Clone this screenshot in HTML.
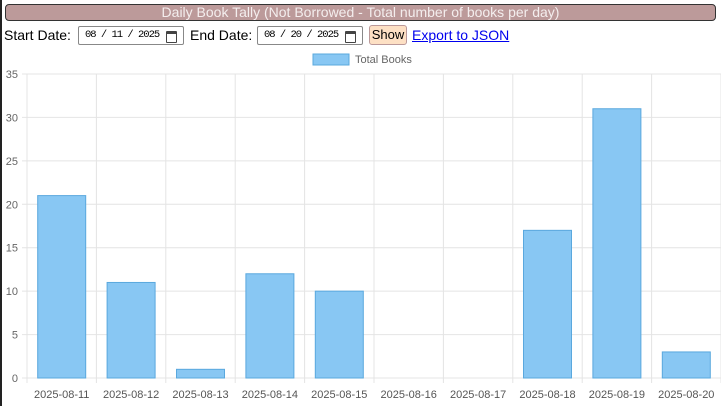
<!DOCTYPE html>
<html><head><meta charset="utf-8"><style>
body{margin:0;width:721px;height:406px;overflow:hidden;background:#fff;font-family:"Liberation Sans",sans-serif;position:relative}
#lb{position:absolute;left:0;top:0;width:2px;height:406px;background:#222}
#title{position:absolute;left:5px;top:4px;width:709px;height:15px;border:1px solid #333;border-radius:4px;background:#bc9a9a;color:#f4eeee;font-size:14px;line-height:15px;text-align:center}
.abs{position:absolute;font-size:14px;white-space:nowrap}
.inp{position:absolute;top:26px;width:104px;height:17px;border:1px solid #888;border-radius:2px;font-family:"Liberation Mono",monospace;font-size:10.5px;line-height:17px;box-sizing:content-box}
.inp span{position:absolute;left:6px;top:0;letter-spacing:-1px;white-space:nowrap}
.cal{position:absolute;right:6px;top:4px;width:9px;height:8px;border:1px solid #444;border-top-width:3px;border-radius:1px}
.btn{position:absolute;left:369px;top:25px;width:36px;height:18px;border:1px solid #b99;border-radius:3px;background:#fde0c4;font-size:13px;line-height:18px;text-align:center}
a{color:#00e;text-decoration:underline}
</style></head><body>
<div id="lb"></div>
<div id="title">Daily Book Tally (Not Borrowed - Total number of books per day)</div>
<div class="abs" style="left:4px;top:27px">Start Date:</div>
<div class="inp" style="left:78px"><span>08 / 11 / 2025</span><i class="cal"></i></div>
<div class="abs" style="left:190px;top:27px">End Date:</div>
<div class="inp" style="left:257px"><span>08 / 20 / 2025</span><i class="cal"></i></div>
<div class="btn">Show</div>
<a class="abs" style="left:412px;top:27px">Export to JSON</a>
<svg id="chart" width="721" height="406" style="position:absolute;left:0;top:0"></svg>
<script>
const categories=["2025-08-11","2025-08-12","2025-08-13","2025-08-14","2025-08-15","2025-08-16","2025-08-17","2025-08-18","2025-08-19","2025-08-20"];
const totalBooks=[21,11,1,12,10,0,0,17,31,3];
const yTicks=[0,5,10,15,20,25,30,35];
const NS="http://www.w3.org/2000/svg";
const svg=document.getElementById('chart');
const x0=27,x1=721,yTop=74,yBot=378,yMax=35;
const bw=(x1-x0)/categories.length;
const ys=v=>yBot-(v/yMax)*(yBot-yTop);
const xs=i=>x0+bw*i;
function mk(t,a){const e=document.createElementNS(NS,t);for(const k in a)e.setAttribute(k,a[k]);svg.appendChild(e);return e;}
yTicks.forEach(v=>{
 const l=mk('line',{x1:x0-5,x2:x1,y1:ys(v),y2:ys(v),stroke:'#e4e4e4'});
 
 
 const t=mk('text',{x:18,y:ys(v)+4,'text-anchor':'end','font-size':11,fill:'#666'});t.textContent=v;
 
 
});
for(let i=0;i<=categories.length;i++){
 const l=mk('line',{x1:xs(i),x2:xs(i),y1:yTop,y2:yBot+5,stroke:'#e4e4e4'});
 
 
}
categories.forEach((c,i)=>{
 const cx=xs(i)+bw/2,v=totalBooks[i];
 if(v>0){const r=mk('rect',{x:cx-24,y:ys(v),width:48,height:yBot-ys(v),fill:'#88c7f3',stroke:'#5aa8de','stroke-width':1});
 
 }
 const t=mk('text',{x:cx,y:398,'text-anchor':'middle','font-size':11,fill:'#555'});t.textContent=c;
 
 
});
const lg=mk('rect',{x:313,y:54,width:36,height:11,fill:'#88c7f3',stroke:'#5aa8de'});


const lt=mk('text',{x:355,y:63,'font-size':11,fill:'#666'});lt.textContent='Total Books';


</script>
</body></html>
